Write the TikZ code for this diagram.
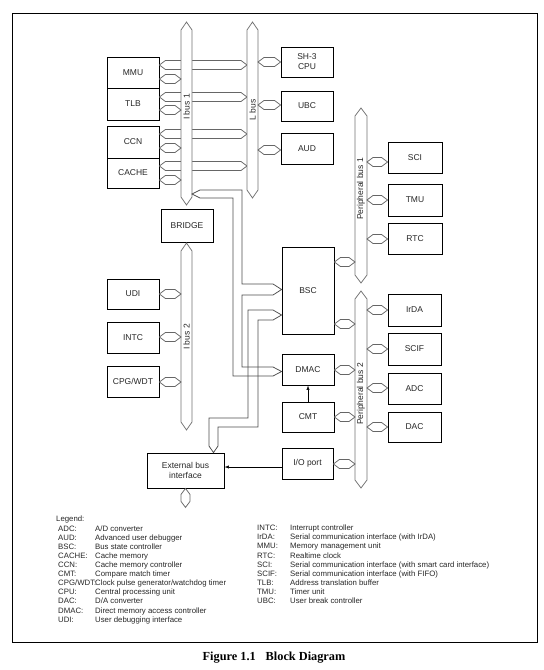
\documentclass[tikz,border=0pt]{standalone}
\usepackage{fontspec}
\setmainfont{Liberation Sans}
\newfontfamily\capfont{Liberation Serif}
\usetikzlibrary{calc,arrows.meta}
\newcommand\hdbl[3]{\draw[busl] let \p1=(#1), \p2=(#2) in (\x1,-#3pt) -- (\x1+6pt,-#3pt+4.5pt) -- (\x2-6pt,-#3pt+4.5pt) -- (\x2,-#3pt) -- (\x2-6pt,-#3pt-4.5pt) -- (\x1+6pt,-#3pt-4.5pt) -- cycle;}
\begin{document}
\begin{tikzpicture}[x=1pt,y=-1pt,
  blk/.style={draw=black, line width=0.8pt, inner sep=0pt, align=center, text=black!85, font=\fontsize{8.5}{10}\selectfont},
  bus/.style={draw=black!55, line width=0.75pt, fill=white},
  busl/.style={draw=black!60, line width=0.75pt},
  band/.style={draw=black!70, line width=0.75pt},
  buslabel/.style={font=\fontsize{8.5}{10}\selectfont, text=black!85, rotate=90, inner sep=0pt},
  leg/.style={font=\fontsize{7.8}{9}\selectfont, text=black!85, anchor=base west, inner sep=0pt},
  sig/.style={draw=black, line width=0.6pt, -{Latex[length=4.5pt,width=3.2pt]}}
]
\useasboundingbox (0,0) rectangle (544,670);
\draw[line width=0.9pt] (12,13) rectangle (537,642);

% blocks
\node[blk, minimum width=52pt, minimum height=31pt] (MMU) at (133,72.5) {MMU};
\node[blk, minimum width=52pt, minimum height=32pt] (TLB) at (133,104) {TLB};
\node[blk, minimum width=52pt, minimum height=32pt] (CCN) at (133,142) {CCN};
\node[blk, minimum width=52pt, minimum height=30pt] (CACHE) at (133,173) {CACHE};
\node[blk, minimum width=52pt, minimum height=30pt] (CPU) at (307,62) {SH-3\\CPU};
\node[blk, minimum width=52pt, minimum height=30pt] (UBC) at (307,106) {UBC};
\node[blk, minimum width=52pt, minimum height=31pt] (AUD) at (307,148.5) {AUD};
\node[blk, minimum width=54pt, minimum height=31pt] (SCI) at (415,157.5) {SCI};
\node[blk, minimum width=54pt, minimum height=32pt] (TMU) at (415,200) {TMU};
\node[blk, minimum width=54pt, minimum height=31pt] (RTC) at (415,238.5) {RTC};
\node[blk, minimum width=52pt, minimum height=33pt] (BRIDGE) at (187,225.5) {BRIDGE};
\node[blk, minimum width=52pt, minimum height=30pt] (UDI) at (133,294) {UDI};
\node[blk, minimum width=52pt, minimum height=31pt] (INTC) at (133,337.5) {INTC};
\node[blk, minimum width=52pt, minimum height=31pt] (CPG) at (133,381.5) {CPG/WDT};
\node[blk, minimum width=52pt, minimum height=87pt] (BSC) at (308,290.5) {BSC};
\node[blk, minimum width=53pt, minimum height=32pt] (IrDA) at (414.5,310) {IrDA};
\node[blk, minimum width=53pt, minimum height=32pt] (SCIF) at (414.5,349) {SCIF};
\node[blk, minimum width=53pt, minimum height=31pt] (ADC) at (414.5,388.5) {ADC};
\node[blk, minimum width=53pt, minimum height=30pt] (DAC) at (414.5,427) {DAC};
\node[blk, minimum width=52pt, minimum height=31pt] (DMAC) at (308,369.5) {DMAC};
\node[blk, minimum width=52pt, minimum height=30pt] (CMT) at (308,417) {CMT};
\node[blk, minimum width=51pt, minimum height=31pt] (IO) at (307.5,463.5) {I/O port};
\node[blk, minimum width=77pt, minimum height=35pt] (EBI) at (185.5,470.5) {External bus\\interface};

% bus edge references
\coordinate (ib1W) at (181,0);
\coordinate (ib1E) at (192,0);
\coordinate (lbW) at (247,0);
\coordinate (lbE) at (258,0);
\coordinate (pb1W) at (355,0);
\coordinate (pb1E) at (367,0);
\coordinate (pb2W) at (355,0);
\coordinate (pb2E) at (367,0);
\coordinate (ib2W) at (181,0);

% long arrows to L bus
\hdbl{MMU.east}{lbW}{65}
\hdbl{TLB.east}{lbW}{97}
\hdbl{CCN.east}{lbW}{134}
\hdbl{CACHE.east}{lbW}{166}

% buses
\draw[bus] (181,30) -- (186.5,22) -- (192,30) -- (192,197) -- (186.5,205) -- (181,197) -- cycle;
\draw[bus] (247,30) -- (252.5,22) -- (258,30) -- (258,190) -- (252.5,198) -- (247,190) -- cycle;
\draw[bus] (355,116) -- (361,108) -- (367,116) -- (367,275) -- (361,283) -- (355,275) -- cycle;
\draw[bus] (355,299) -- (361,291) -- (367,299) -- (367,480) -- (361,488) -- (355,480) -- cycle;
\draw[bus] (181,251) -- (186.5,243) -- (192,251) -- (192,422) -- (186.5,430) -- (181,422) -- cycle;

\node[buslabel] (lib1) at (186.5,107) {I bus 1};
\node[buslabel] (llb) at (252.5,110) {L bus};
\node[buslabel] (lpb1) at (361,189) {Peripheral bus 1};
\node[buslabel] (lib2) at (186.5,337) {I bus 2};
\node[buslabel] (lpb2) at (361,394) {Peripheral bus 2};

% short arrows
\hdbl{MMU.east}{ib1W}{79}
\hdbl{TLB.east}{ib1W}{110}
\hdbl{CCN.east}{ib1W}{148}
\hdbl{CACHE.east}{ib1W}{180}
\hdbl{lbE}{CPU.west}{62}
\hdbl{lbE}{UBC.west}{105}
\hdbl{lbE}{AUD.west}{150}
\hdbl{pb1E}{SCI.west}{162}
\hdbl{pb1E}{TMU.west}{200}
\hdbl{pb1E}{RTC.west}{239}
\hdbl{BSC.east}{pb1W}{262}
\hdbl{BSC.east}{pb2W}{324}
\hdbl{pb2E}{IrDA.west}{310}
\hdbl{pb2E}{SCIF.west}{349}
\hdbl{pb2E}{ADC.west}{388}
\hdbl{pb2E}{DAC.west}{427}
\hdbl{DMAC.east}{pb2W}{370}
\hdbl{CMT.east}{pb2W}{417}
\hdbl{IO.east}{pb2W}{464}
\hdbl{UDI.east}{ib2W}{294}
\hdbl{INTC.east}{ib2W}{337}
\hdbl{CPG.east}{ib2W}{382}
\draw[busl] (EBI.south) -- ++(4.5,6) -- ++(0,7) -- ++(-4.5,6) -- ++(-4.5,-6) -- ++(0,-7) -- cycle;

% wide internal paths
\draw[band] (ib1E |- 0,194) -- (200,190) -- (242,190) -- (242,284) -- (273,284) -- (BSC.west |- 0,289.5) -- (273,295) -- (242,295) -- (242,367) -- (273,367) -- (DMAC.west |- 0,371.5) -- (273,376) -- (233,376) -- (233,198) -- (200,198) -- cycle;
\draw[band] (213.5,0 |- EBI.north) -- (209,446) -- (209,418) -- (248,418) -- (248,310) -- (273,310) -- (BSC.west |- 0,315) -- (273,320) -- (258,320) -- (258,427) -- (218,427) -- (218,446) -- cycle;

% signal arrows
\draw[sig] (CMT.north) -- (DMAC.south);
\draw[sig] (IO.west |- 0,467) -- (EBI.east |- 0,467);

% legend
\node[leg] (legt) at (56,521.8) {Legend:};
\foreach \a/\d/\y [count=\i] in {
  {ADC:}/{A/D converter}/529,
  {AUD:}/{Advanced user debugger}/538,
  {BSC:}/{Bus state controller}/547,
  {CACHE:}/{Cache memory}/556,
  {CCN:}/{Cache memory controller}/565,
  {CMT:}/{Compare match timer}/574,
  {CPG/WDT:}/{Clock pulse generator/watchdog timer}/583,
  {CPU:}/{Central processing unit}/592,
  {DAC:}/{D/A converter}/601,
  {DMAC:}/{Direct memory access controller}/611,
  {UDI:}/{User debugging interface}/620}
{
  \node[leg] (la\i) at (58,\y+2.8) {\a};
  \node[leg] (ld\i) at (95,\y+2.8) {\d};
}
\foreach \a/\d/\y [count=\i] in {
  {INTC:}/{Interrupt controller}/528,
  {IrDA:}/{Serial communication interface (with IrDA)}/537,
  {MMU:}/{Memory management unit}/546,
  {RTC:}/{Realtime clock}/556,
  {SCI:}/{Serial communication interface (with smart card interface)}/565,
  {SCIF:}/{Serial communication interface (with FIFO)}/574,
  {TLB:}/{Address translation buffer}/583,
  {TMU:}/{Timer unit}/592,
  {UBC:}/{User break controller}/601}
{
  \node[leg] (ra\i) at (257,\y+2.8) {\a};
  \node[leg] (rd\i) at (290,\y+2.8) {\d};
}

% caption
\node[anchor=base, inner sep=0pt, font=\capfont\bfseries\fontsize{12.3}{14}\selectfont] (cap) at (274,660.5) {Figure 1.1\hspace{10pt}Block Diagram};
\end{tikzpicture}
\end{document}
